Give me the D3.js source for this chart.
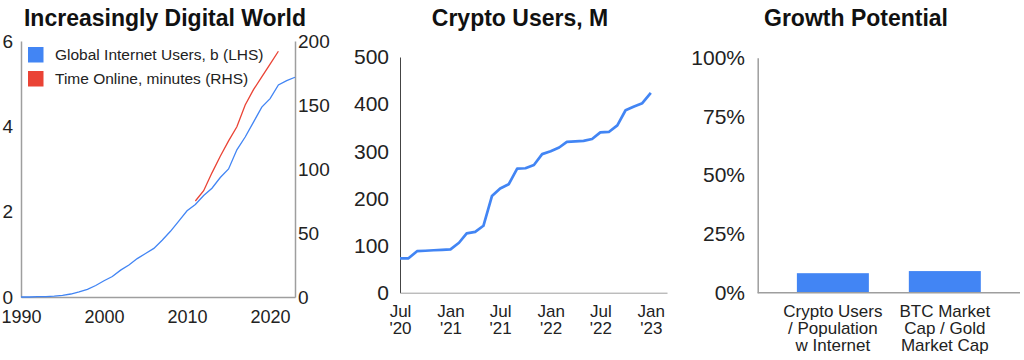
<!DOCTYPE html>
<html>
<head>
<meta charset="utf-8">
<script src="https://cdn.jsdelivr.net/npm/d3@7"></script>
<style>
  html, body { margin: 0; padding: 0; background: #fff; }
  svg { display: block; font-family: "Liberation Sans", Arial, sans-serif; }
</style>
</head>
<body>
<svg id="chart" width="1024" height="360"></svg>
<script>
// ---------- Data ----------
// Chart 1: Increasingly Digital World
const internetYears = [1990,1991,1992,1993,1994,1995,1996,1997,1998,1999,2000,2001,2002,2003,2004,2005,2006,2007,2008,2009,2010,2011,2012,2013,2014,2015,2016,2017,2018,2019,2020,2021,2022,2023];
const internetUsersB = [0.00,0.00,0.01,0.01,0.02,0.04,0.07,0.12,0.18,0.27,0.38,0.48,0.63,0.75,0.90,1.02,1.14,1.33,1.54,1.78,2.02,2.17,2.38,2.55,2.80,3.00,3.45,3.75,4.10,4.45,4.65,4.97,5.07,5.15];
const onlineYears = [2011,2012,2013,2014,2015,2016,2017,2018,2019,2020,2021];
const onlineMinutes = [75,83,97,110,122,133,150,162,172,182,192];
const chart1LeftTicks = [0,2,4,6];
const chart1RightTicks = [0,50,100,150,200];
const chart1XTicks = [1990,2000,2010,2020];
const chart1Legend = ["Global Internet Users, b (LHS)", "Time Online, minutes (RHS)"];

// Chart 2: Crypto Users, M (monthly, Jul 2020 - Jan 2023)
const cryptoMonths = ["2020-07","2020-08","2020-09","2020-10","2020-11","2020-12","2021-01","2021-02","2021-03","2021-04","2021-05","2021-06","2021-07","2021-08","2021-09","2021-10","2021-11","2021-12","2022-01","2022-02","2022-03","2022-04","2022-05","2022-06","2022-07","2022-08","2022-09","2022-10","2022-11","2022-12","2023-01"];
const cryptoUsersM = [73,73,88,89,90,91,92,106,126,129,142,205,221,230,263,264,271,294,300,308,320,321,322,326,340,341,355,387,395,402,424];
const chart2YTicks = [0,100,200,300,400,500];
const chart2XTicks = ["2020-07","2021-01","2021-07","2022-01","2022-07","2023-01"];

// Chart 3: Growth Potential
const growthCategories = [["Crypto Users", "/ Population", "w Internet"], ["BTC Market", "Cap / Gold", "Market Cap"]];
const growthValues = [0.083, 0.092];
const chart3YTicks = [0, 0.25, 0.5, 0.75, 1];

const titles = ["Increasingly Digital World", "Crypto Users, M", "Growth Potential"];

// ---------- Drawing ----------
const BLUE = "#4285F4", RED = "#EA4335", AXIS = "#9e9e9e";
const svg = d3.select("#chart");
const parseMonth = d3.timeParse("%Y-%m");

function title(text, cx) {
  svg.append("text").attr("x", cx).attr("y", 26).attr("text-anchor", "middle")
    .attr("font-size", 23).attr("font-weight", "bold").attr("fill", "#111").text(text);
}

// ===== Chart 1 =====
{
  const x = d3.scaleLinear().domain([1990, 2023]).range([21, 295]);
  const yL = d3.scaleLinear().domain([0, 6]).range([297, 41]);
  const yR = d3.scaleLinear().domain([0, 200]).range([297, 41]);
  const g = svg.append("g");

  const axL = d3.axisLeft(yL).tickValues(chart1LeftTicks).tickSize(0).tickPadding(8).tickFormat(d3.format("d"));
  const axR = d3.axisRight(yR).tickValues(chart1RightTicks).tickSize(0).tickPadding(3).tickFormat(d3.format("d"));
  const axB = d3.axisBottom(x).tickValues(chart1XTicks).tickSize(0).tickPadding(13).tickFormat(d3.format("d"));

  [[axL, "translate(21,0)", 19], [axR, "translate(295,0)", 19], [axB, "translate(0,297)", 18]].forEach(([ax, tr, fs]) => {
    const a = g.append("g").attr("transform", tr).call(ax);
    a.select(".domain").attr("stroke", AXIS).attr("stroke-width", 1.5);
    a.selectAll("text").attr("font-size", fs).attr("fill", "#222").attr("font-family", "Liberation Sans, Arial, sans-serif");
  });

  const lineB = d3.line().x((d, i) => x(internetYears[i])).y(d => yL(d));
  g.append("path").datum(internetUsersB).attr("d", lineB).attr("fill", "none").attr("stroke", BLUE).attr("stroke-width", 1.3);
  const lineR = d3.line().x((d, i) => x(onlineYears[i])).y(d => yR(d));
  g.append("path").datum(onlineMinutes).attr("d", lineR).attr("fill", "none").attr("stroke", RED).attr("stroke-width", 1.3);

  const lg = g.append("g");
  chart1Legend.forEach((t, i) => {
    lg.append("rect").attr("x", 28).attr("y", 47 + i * 24).attr("width", 15.5).attr("height", 15.5).attr("fill", i ? RED : BLUE);
    lg.append("text").attr("x", 55).attr("y", 60 + i * 24).attr("font-size", 15.5).attr("fill", "#222").text(t);
  });
  title(titles[0], 165);
}

// ===== Chart 2 =====
{
  const x = d3.scaleTime().domain([parseMonth("2020-07"), parseMonth("2023-03")]).range([400, 667]);
  const y = d3.scaleLinear().domain([0, 500]).range([292.7, 57]);
  const g = svg.append("g");

  const axL = d3.axisLeft(y).tickValues(chart2YTicks).tickSize(0).tickPadding(11).tickFormat(d3.format("d"));
  const aL = g.append("g").attr("transform", "translate(400,0)").call(axL);
  aL.select(".domain").attr("stroke", "#444").attr("stroke-width", 1);
  aL.selectAll("text").attr("font-size", 21).attr("fill", "#222");

  const axB = d3.axisBottom(x).tickValues(chart2XTicks.map(parseMonth)).tickSize(0).tickPadding(0).tickFormat(() => "");
  const aB = g.append("g").attr("transform", "translate(0,292.7)").call(axB);
  aB.select(".domain").attr("stroke", AXIS).attr("stroke-width", 1);
  aB.selectAll(".tick text").remove();
  aB.selectAll(".tick").each(function (d) {
    const t = d3.select(this).append("text").attr("text-anchor", "middle").attr("fill", "#222").attr("font-size", 17);
    t.append("tspan").attr("x", 0).attr("y", 24).text(d3.timeFormat("%b")(d));
    t.append("tspan").attr("x", 0).attr("y", 41.5).text("'" + d3.timeFormat("%y")(d));
  });

  const line = d3.line().x((d, i) => x(parseMonth(cryptoMonths[i]))).y(d => y(d));
  g.append("path").datum(cryptoUsersM).attr("d", line).attr("fill", "none").attr("stroke", BLUE).attr("stroke-width", 2.7).attr("stroke-linejoin", "round");
  title(titles[1], 520);
}

// ===== Chart 3 =====
{
  const x = d3.scaleBand().domain(d3.range(growthValues.length)).range([757.7, 1020]).paddingInner(0.357).paddingOuter(0.35);
  const y = d3.scaleLinear().domain([0, 1]).range([292.7, 57.7]);
  const g = svg.append("g");

  g.selectAll("rect.bar").data(growthValues).join("rect").attr("class", "bar")
    .attr("x", (d, i) => x(i)).attr("width", x.bandwidth())
    .attr("y", d => y(d)).attr("height", d => y(0) - y(d)).attr("fill", BLUE);

  const axL = d3.axisLeft(y).tickValues(chart3YTicks).tickSize(0).tickPadding(12.7).tickFormat(d3.format(".0%"));
  const aL = g.append("g").attr("transform", "translate(757.7,0)").call(axL);
  aL.select(".domain").attr("stroke", AXIS).attr("stroke-width", 1.5);
  aL.selectAll("text").attr("font-size", 21).attr("fill", "#222");

  const axB = d3.axisBottom(x).tickSize(0).tickFormat(() => "");
  const aB = g.append("g").attr("transform", "translate(0,292.7)").call(axB);
  aB.select(".domain").attr("stroke", AXIS).attr("stroke-width", 1.5).attr("d", "M757.7,0H1020");
  aB.selectAll(".tick text").remove();
  aB.selectAll(".tick").each(function (d) {
    const t = d3.select(this).append("text").attr("text-anchor", "middle").attr("fill", "#222").attr("font-size", 17);
    growthCategories[d].forEach((s, k) => t.append("tspan").attr("x", 0).attr("y", 24 + k * 17.3).text(s));
  });
  title(titles[2], 856);
}
</script>
</body>
</html>
